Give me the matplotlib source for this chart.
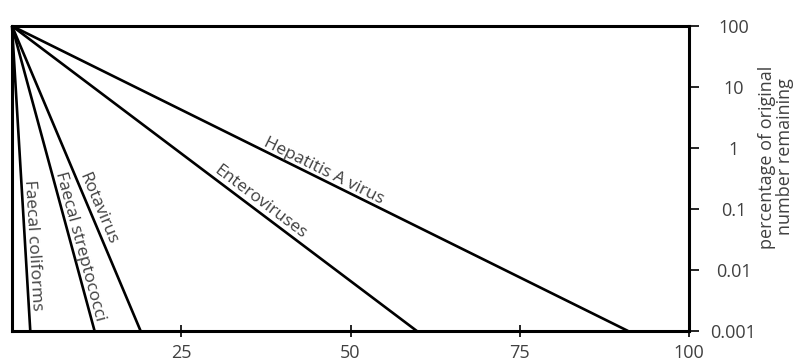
import numpy as np
import matplotlib
matplotlib.use("Agg")
from matplotlib import pyplot as plt

# organisms and the day at which 0.001 % of the original number remains
organisms = ["Faecal coliforms", "Faecal streptococci", "Rotavirus",
             "Enteroviruses", "Hepatitis A virus"]
days_end = [2.7, 12.2, 19.0, 59.8, 91.0]
start_pct = 100
end_pct = 0.001

# where along each line its label sits (fraction of the line)
label_frac = [0.72, 0.73, 0.61, 0.60, 0.50]

x_ticks = [25, 50, 75, 100]
y_ticks = [100, 10, 1, 0.1, 0.01, 0.001]
y_tick_labels = ["100", "10", "1", "0.1", "0.01", "0.001"]

text_color = "#404040"
plt.rcParams["font.family"] = ["Open Sans", "DejaVu Sans"]

fig = plt.figure(figsize=(7.95, 3.61), dpi=100)
ax = fig.add_axes([12 / 795, 30 / 361, 677 / 795, 305 / 361])

ax.set_xlim(0, 100)
ax.set_yscale("log")
ax.set_ylim(end_pct, start_pct)

# draw the lines
for d in days_end:
    ax.plot([0, d], [start_pct, end_pct], color="black", lw=1.9,
            solid_capstyle="butt", clip_on=False)

# cosmetic tuning of the axes
for s in ax.spines.values():
    s.set_linewidth(2.2)
ax.yaxis.tick_right()
ax.set_yticks(y_ticks)
ax.set_yticklabels(y_tick_labels)
ax.yaxis.set_minor_locator(matplotlib.ticker.NullLocator())
ax.tick_params(axis="y", direction="out", length=7, width=1.2, pad=25,
               labelsize=13, labelcolor=text_color)
for lab in ax.get_yticklabels():
    lab.set_ha("center")
ax.set_xticks(x_ticks)
ax.tick_params(axis="x", direction="inout", length=8, width=1.2, pad=5,
               labelsize=13, labelcolor=text_color)

# labels along the lines
for name, d, f in zip(organisms, days_end, label_frac):
    p0 = ax.transData.transform((0, start_pct))
    p1 = ax.transData.transform((d, end_pct))
    angle = np.degrees(np.arctan2(p1[1] - p0[1], p1[0] - p0[0]))
    x = f * d
    y = 10 ** (np.log10(start_pct) + f * (np.log10(end_pct) - np.log10(start_pct)))
    ax.text(x, y, name, rotation=angle, rotation_mode="anchor",
            ha="center", va="bottom", fontsize=12.5, color=text_color)

fig.text(776 / 795, 1 - 157 / 361, "percentage of original\nnumber remaining",
         rotation=90, ha="center", va="center", fontsize=13,
         color=text_color, linespacing=1.0)

fig.savefig("out.png", dpi=100)
